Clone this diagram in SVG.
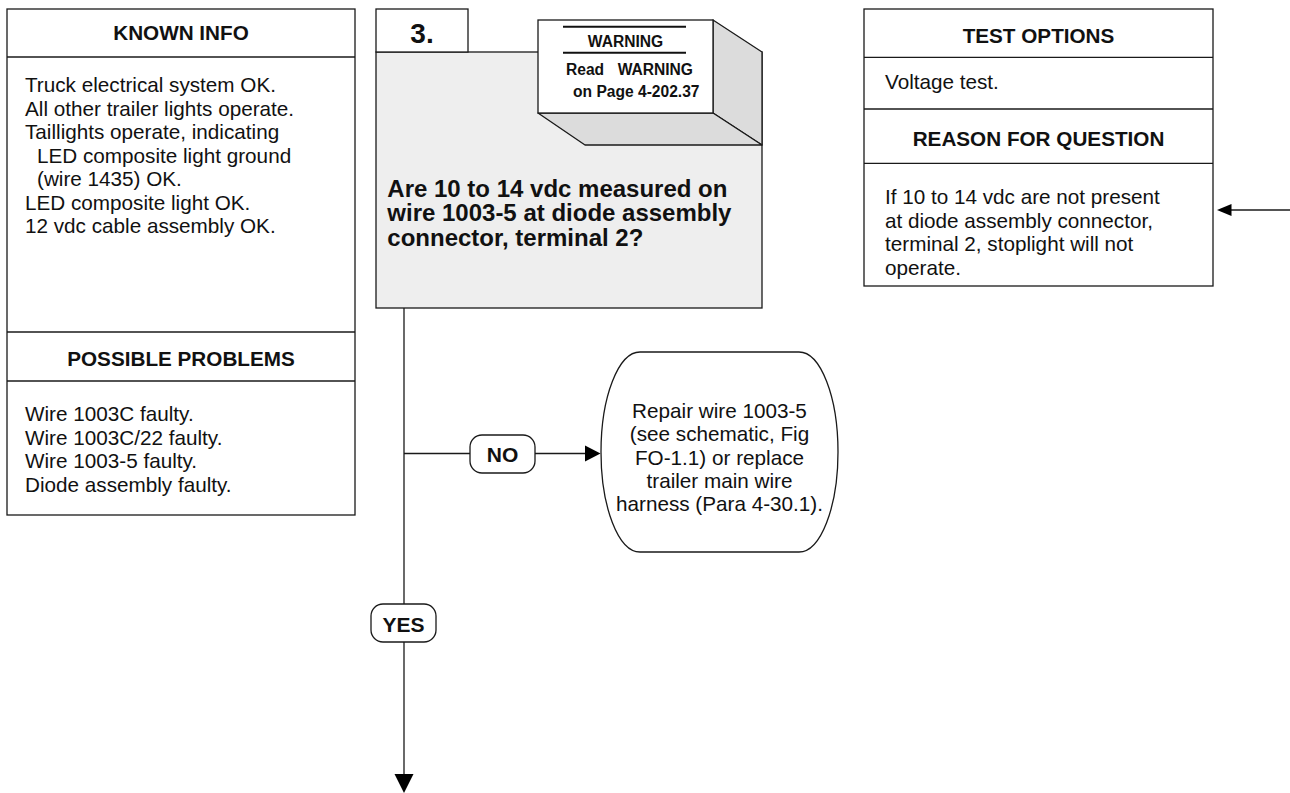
<svg xmlns="http://www.w3.org/2000/svg" width="1290" height="793" viewBox="0 0 1290 793">
<style>
.ln{stroke:#1a1a1a;stroke-width:1.3;fill:none}
.box{stroke:#1a1a1a;stroke-width:1.3;fill:#ffffff}
.hd{font-family:"Liberation Sans",Arial,sans-serif;font-weight:bold;font-size:20.7px;fill:#111;text-anchor:middle}
.tx{font-family:"Liberation Sans",Arial,sans-serif;font-size:20.7px;fill:#111}
.q{font-family:"Liberation Sans",Arial,sans-serif;font-weight:bold;font-size:24px;fill:#111}
.w{font-family:"Liberation Sans",Arial,sans-serif;font-weight:bold;font-size:15.6px;fill:#111}
.lbl{font-family:"Liberation Sans",Arial,sans-serif;font-weight:bold;font-size:21px;fill:#111;text-anchor:middle}
.ah{fill:#000;stroke:none}
</style>
<rect width="1290" height="793" fill="#ffffff"/>

<g id="known-info">
<rect class="box" x="7" y="9" width="348" height="506"/>
<line class="ln" x1="7" y1="57" x2="355" y2="57"/>
<line class="ln" x1="7" y1="332" x2="355" y2="332"/>
<line class="ln" x1="7" y1="381" x2="355" y2="381"/>
<text class="hd" x="181" y="40">KNOWN INFO</text>
<text class="tx" x="25" y="92.3">Truck electrical system OK.</text>
<text class="tx" x="25" y="115.8">All other trailer lights operate.</text>
<text class="tx" x="25" y="139.3">Taillights operate, indicating</text>
<text class="tx" x="37" y="162.8">LED composite light ground</text>
<text class="tx" x="37" y="186.3">(wire 1435) OK.</text>
<text class="tx" x="25" y="209.8">LED composite light OK.</text>
<text class="tx" x="25" y="233.3">12 vdc cable assembly OK.</text>
<text class="hd" x="181" y="366">POSSIBLE PROBLEMS</text>
<text class="tx" x="25" y="421">Wire 1003C faulty.</text>
<text class="tx" x="25" y="444.5">Wire 1003C/22 faulty.</text>
<text class="tx" x="25" y="468">Wire 1003-5 faulty.</text>
<text class="tx" x="25" y="491.5">Diode assembly faulty.</text>
</g>

<g id="step-3">
<rect x="376" y="52" width="386" height="256" fill="#eeeeee" stroke="#1a1a1a" stroke-width="1.3"/>
<rect class="box" x="376" y="9" width="92" height="43"/>
<text x="422" y="43" font-family="Liberation Sans, Arial, sans-serif" font-weight="bold" font-size="28px" fill="#111" text-anchor="middle">3.</text>
<text class="q" x="387.3" y="196.7">Are 10 to 14 vdc measured on</text>
<text class="q" x="387.3" y="221.2">wire 1003-5 at diode assembly</text>
<text class="q" x="387.3" y="245.7">connector, terminal 2?</text>
</g>

<g id="warning">
<polygon points="713,20 762,52 762,145 713,113" fill="#dcdcdc" stroke="#1a1a1a" stroke-width="1.3" stroke-linejoin="round"/>
<polygon points="538,113 713,113 762,145 585,145" fill="#dcdcdc" stroke="#1a1a1a" stroke-width="1.3" stroke-linejoin="round"/>
<rect class="box" x="538" y="20" width="175" height="93"/>
<line x1="563" y1="26.7" x2="686" y2="26.7" stroke="#111" stroke-width="2"/>
<line x1="563" y1="52.7" x2="686" y2="52.7" stroke="#111" stroke-width="2"/>
<text class="w" x="625.5" y="47" text-anchor="middle">WARNING</text>
<text class="w" x="566" y="75">Read</text>
<text class="w" x="693" y="75" text-anchor="end">WARNING</text>
<text class="w" x="573" y="97">on Page 4-202.37</text>
</g>

<g id="test-options">
<rect class="box" x="864" y="9" width="349" height="277"/>
<line class="ln" x1="864" y1="57.3" x2="1213" y2="57.3"/>
<line class="ln" x1="864" y1="109" x2="1213" y2="109"/>
<line class="ln" x1="864" y1="163.3" x2="1213" y2="163.3"/>
<text class="hd" x="1038.5" y="42.7">TEST OPTIONS</text>
<text class="tx" x="885" y="89.3">Voltage test.</text>
<text class="hd" x="1038.5" y="145.7">REASON FOR QUESTION</text>
<text class="tx" x="885" y="204">If 10 to 14 vdc are not present</text>
<text class="tx" x="885" y="227.7">at diode assembly connector,</text>
<text class="tx" x="885" y="251.3">terminal 2, stoplight will not</text>
<text class="tx" x="885" y="275">operate.</text>
</g>

<g id="repair">
<path class="box" d="M640,352 L799,352 A39,100 0 0 1 799,552 L640,552 A39,100 0 0 1 640,352 Z"/>
<text class="tx" x="719.5" y="418" text-anchor="middle">Repair wire 1003-5</text>
<text class="tx" x="719.5" y="441.3" text-anchor="middle">(see schematic, Fig</text>
<text class="tx" x="719.5" y="464.5" text-anchor="middle">FO-1.1) or replace</text>
<text class="tx" x="719.5" y="487.5" text-anchor="middle">trailer main wire</text>
<text class="tx" x="719.5" y="510.5" text-anchor="middle">harness (Para 4-30.1).</text>
</g>

<g id="connectors">
<line class="ln" x1="404" y1="308" x2="404" y2="776"/>
<polygon class="ah" points="394.5,774 413.5,774 404,793"/>
<line class="ln" x1="404" y1="453.5" x2="587" y2="453.5"/>
<polygon class="ah" points="585,445.5 585,461.5 600.5,453.5"/>
<line class="ln" x1="1229" y1="210" x2="1290" y2="210"/>
<polygon class="ah" points="1231.5,204 1231.5,216 1217,210"/>
<g id="label-no">
<rect class="box" x="470" y="435" width="65" height="38" rx="12" ry="12"/>
<text class="lbl" x="502.5" y="461.5">NO</text>
</g>
<g id="label-yes">
<rect class="box" x="371" y="604" width="65" height="38" rx="12" ry="12"/>
<text class="lbl" x="403.5" y="631.5">YES</text>
</g>
</g>
</svg>
